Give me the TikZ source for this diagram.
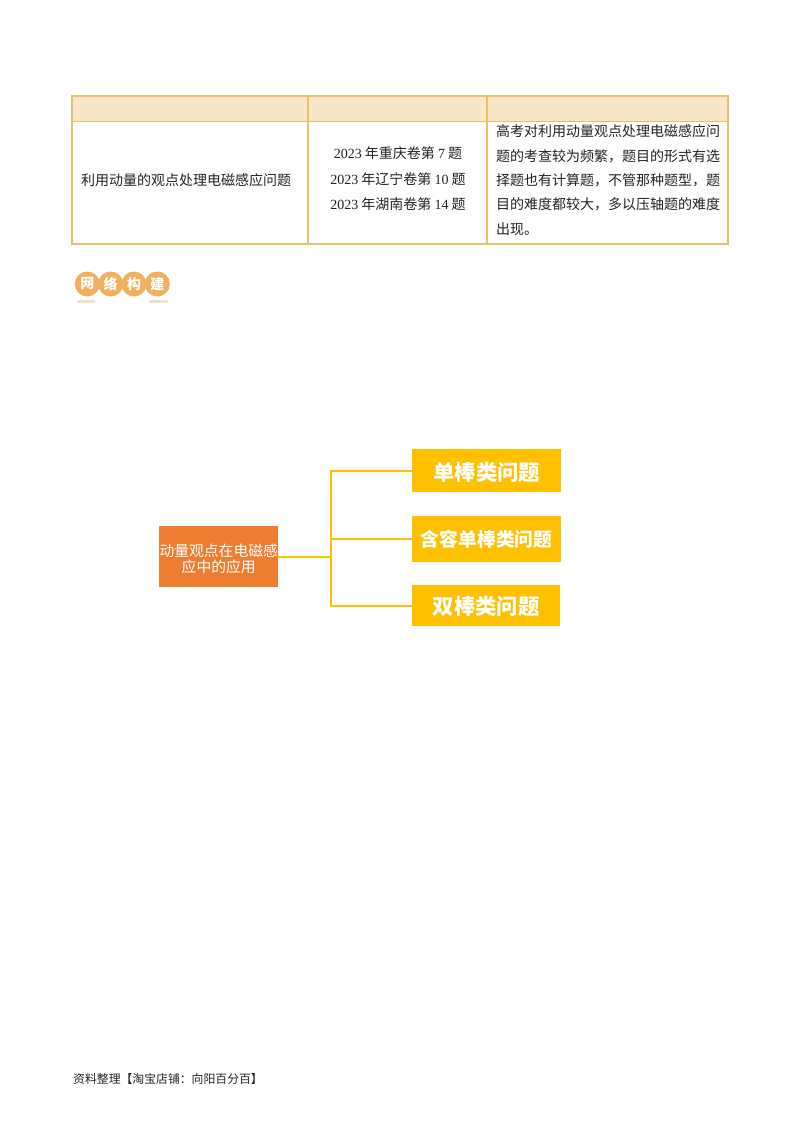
\documentclass[tikz,border=0pt]{standalone}
\usepackage{fontspec}
\setmainfont{Noto Sans CJK SC}
\newfontfamily\latinf{Liberation Serif}
\newcommand{\lat}[1]{{\latinf #1}}
\definecolor{tableline}{HTML}{EDBE6E}
\definecolor{tablehead}{HTML}{F8E6C8}
\definecolor{logoc}{HTML}{F2B05E}
\definecolor{logobar}{HTML}{F1E0C8}
\definecolor{rootc}{HTML}{ED7D31}
\definecolor{leafc}{HTML}{FFC000}
\definecolor{txt}{HTML}{222222}
\tikzset{
  body/.style={inner sep=0pt,text=txt,font=\fontsize{14}{14}\selectfont},
  cellline/.style={draw=tableline,line width=2pt},
  cellthin/.style={draw=tableline,line width=1.4pt},
  logocircle/.style={circle,fill=logoc,minimum size=25pt,inner sep=0pt,text=white,font=\fontsize{14}{14}\selectfont\bfseries},
  logobarstyle/.style={fill=logobar,draw=none},
  rootbox/.style={fill=rootc,draw=none,inner sep=0pt,text=white,align=center,font=\fontsize{14.8}{16}\selectfont},
  leafbox/.style={fill=leafc,draw=none,inner sep=0pt,text=white,font=\fontsize{21.4}{21}\selectfont\bfseries},
  leafsmall/.style={leafbox,font=\fontsize{18.8}{19}\selectfont\bfseries},
  link/.style={draw=leafc,line width=2pt}
}
\begin{document}
\begin{tikzpicture}[x=1pt,y=-1pt]
\useasboundingbox (0,0) rectangle (800,1132);
% table
\fill[tablehead] (72,96) rectangle (728,121.5);
\draw[cellthin] (72,121.5) -- (728,121.5);
\draw[cellthin] (308,96) -- (308,244);
\draw[cellthin] (487,96) -- (487,244);
\draw[cellline] (72,96) rectangle (728,244);
\node[body,anchor=west] (topic) at (81,180) {利用动量的观点处理电磁感应问题};
\node[body] (m1) at (398,153) {\lat{2023} 年重庆卷第 \lat{7} 题};
\node[body] (m2) at (398,179) {\lat{2023} 年辽宁卷第 \lat{10} 题};
\node[body] (m3) at (398,204) {\lat{2023} 年湖南卷第 \lat{14} 题};
\node[body,anchor=west] (r1) at (496,131) {高考对利用动量观点处理电磁感应问};
\node[body,anchor=west] (r2) at (496,156) {题的考查较为频繁，题目的形式有选};
\node[body,anchor=west] (r3) at (496,180) {择题也有计算题，不管那种题型，题};
\node[body,anchor=west] (r4) at (496,204) {目的难度都较大，多以压轴题的难度};
\node[body,anchor=west] (r5) at (496,229) {出现。};
% logo
\fill[logobarstyle] (77,299.5) rectangle (95,302.5);
\fill[logobarstyle] (149,299.5) rectangle (168,302.5);
\node[logocircle] (l1) at (87.3,284) {网};
\node[logocircle] (l2) at (110.7,284) {络};
\node[logocircle] (l3) at (134,284) {构};
\node[logocircle] (l4) at (157.3,284) {建};
% mind map
\node[rootbox,minimum width=118.5pt,minimum height=61pt] (root) at (218.7,556.5) {\rule{0pt}{18pt}动量观点在电磁感\\应中的应用};
\node[leafbox,minimum width=149.5pt,minimum height=43pt,text height=24pt,text depth=5pt] (a) at (486.7,470.5) {单棒类问题};
\node[leafsmall,minimum width=149.5pt,minimum height=46pt,text height=20pt,text depth=4pt] (b) at (486.7,538.5) {含容单棒类问题};
\node[leafbox,minimum width=148.5pt,minimum height=41pt,text height=23pt,text depth=5pt] (c) at (486.2,605.5) {双棒类问题};
\coordinate (j) at (331,556.5);
\draw[link] (root.east) -- (j);
\draw[link] (j) |- (a.west);
\draw[link] (j) |- (b.west);
\draw[link] (j) |- (c.west);
% footer
\node[inner sep=0pt,anchor=west,text=txt,font=\fontsize{11.85}{12}\selectfont] (foot) at (73,1079) {资料整理【淘宝店铺：向阳百分百】};
\end{tikzpicture}
\end{document}
